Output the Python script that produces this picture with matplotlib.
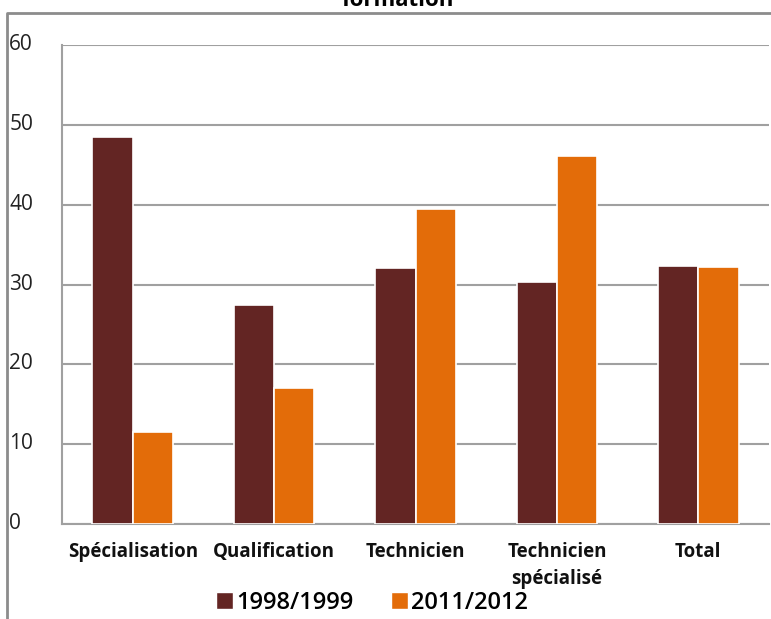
import matplotlib
matplotlib.use("Agg")
import matplotlib.pyplot as plt
from matplotlib.lines import Line2D
from matplotlib.patches import Patch
import numpy as np

categories = ["Spécialisation", "Qualification", "Technicien", "Technicien\nspécialisé", "Total"]
series_names = ["1998/1999", "2011/2012"]
values_1998 = [48.5, 27.4, 32.1, 30.3, 32.3]
values_2011 = [11.5, 17.0, 39.4, 46.1, 32.2]
yticks = [0, 10, 20, 30, 40, 50, 60]
colors = ["#632523", "#E36C09"]

FONT = ["Open Sans", "DejaVu Sans"]
plt.rcParams["font.family"] = FONT

W, H = 771, 619
fig = plt.figure(figsize=(W / 100, H / 100), dpi=100)
ax = fig.add_axes([62 / W, 1 - 524 / H, (769 - 62) / W, (524 - 45) / H])

x = np.arange(len(categories))
bw = 0.285
ax.bar(x - bw / 2, values_1998, width=bw, color=colors[0], edgecolor="white", linewidth=1.2, zorder=3)
ax.bar(x + bw / 2, values_2011, width=bw, color=colors[1], edgecolor="white", linewidth=1.2, zorder=3)

ax.set_xlim(-0.5, len(categories) - 0.5)
ax.set_ylim(0, 60)
ax.set_yticks(yticks)
ax.set_yticklabels([str(t) for t in yticks], fontsize=15, ha="left")
for lbl in ax.get_yticklabels():
    lbl.set_va("bottom")
ax.tick_params(axis="y", length=0, pad=38, colors="#222222")
ax.set_xticks(x)
ax.set_xticklabels(categories, fontsize=13.5, fontweight="bold", linespacing=1.45)
ax.tick_params(axis="x", length=0, pad=13, colors="#111111")
ax.grid(axis="y", color="#a0a0a0", linewidth=1.5, zorder=0)
for s in ["top", "right"]:
    ax.spines[s].set_visible(False)
ax.spines["left"].set_color("#a0a0a0")
ax.spines["left"].set_linewidth(1.5)
ax.spines["bottom"].set_color("#a0a0a0")
ax.spines["bottom"].set_linewidth(1.5)

# shift y labels so they sit slightly above their grid line, as in the reference
import matplotlib.transforms as mtransforms
offset = mtransforms.ScaledTranslation(0, -10 / 100, fig.dpi_scale_trans)
for lbl in ax.get_yticklabels():
    lbl.set_transform(lbl.get_transform() + offset)

# outer chart frame (partially visible)
fig.add_artist(Line2D([7 / W, 7 / W, 1.0], [0.0, 1 - 13 / H, 1 - 13 / H],
                      transform=fig.transFigure, color="#8c8c8c", linewidth=2))

fig.text(398 / W, 1 - 6 / H, "formation", ha="center", va="baseline",
         fontsize=16, fontweight="bold")

handles = [Patch(facecolor=c, edgecolor="white") for c in colors]
fig.legend(handles, series_names, loc="center", bbox_to_anchor=(372 / W, 1 - 603 / H),
           ncol=2, frameon=False, handlelength=0.7, handleheight=0.7,
           handletextpad=0.15, columnspacing=1.6, prop={"weight": "semibold", "size": 17})

fig.savefig("out.png", dpi=100)
